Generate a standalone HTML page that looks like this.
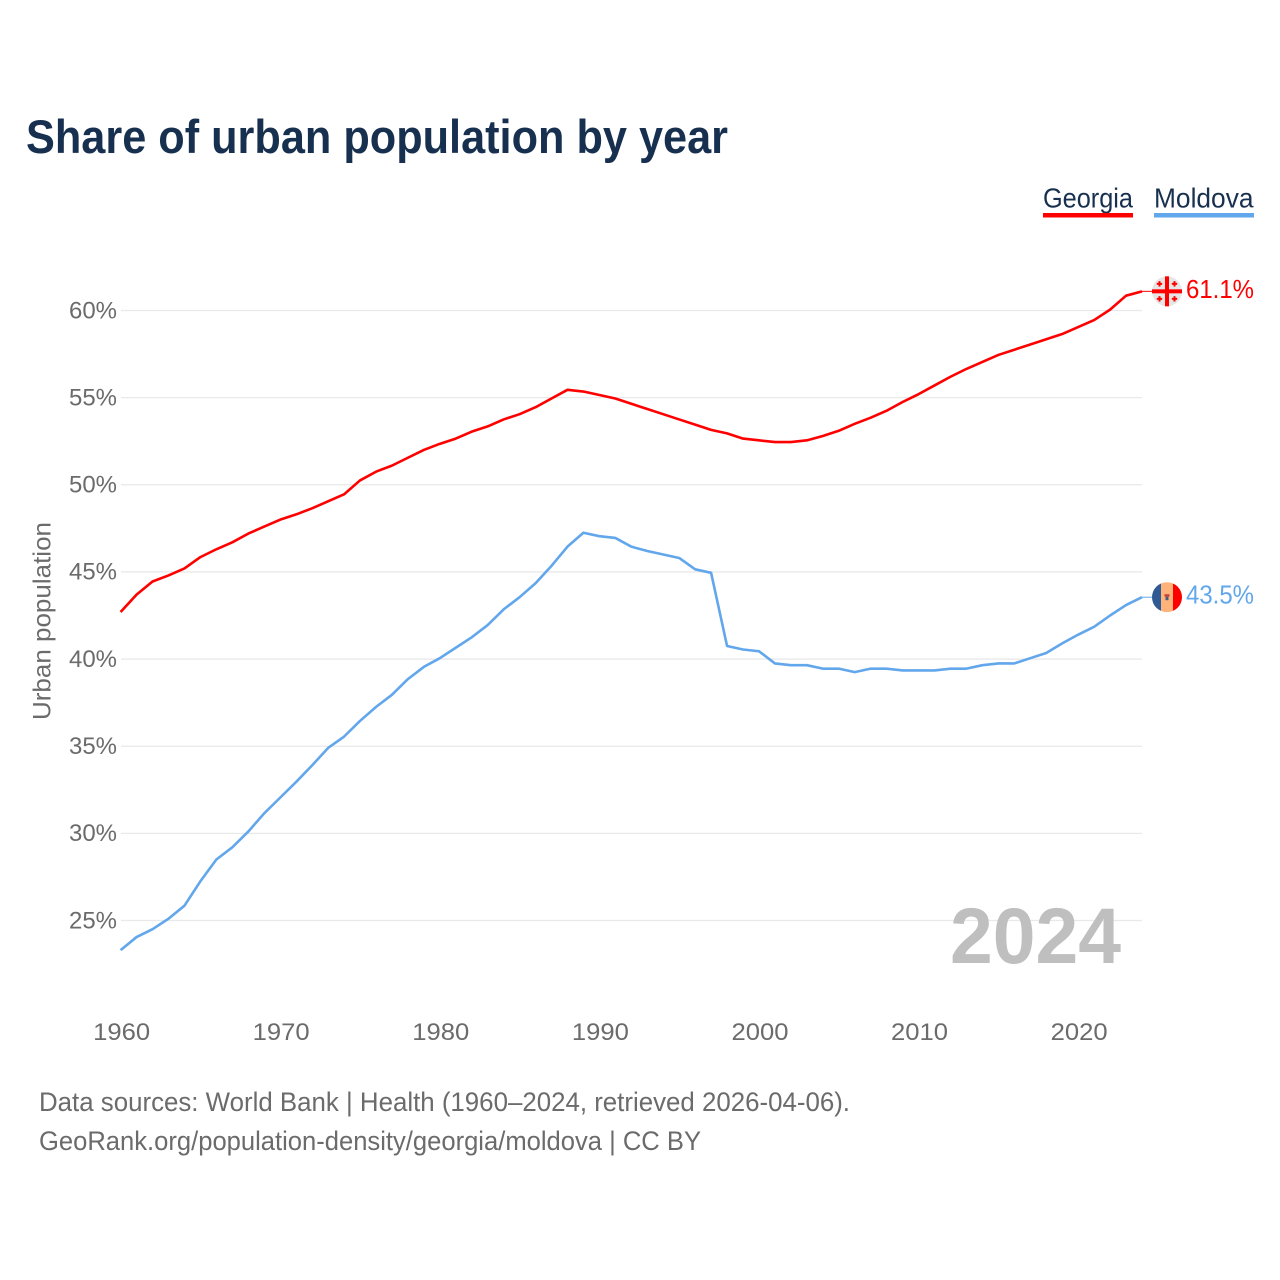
<!DOCTYPE html>
<html lang="en">
<head>
<meta charset="utf-8">
<title>Share of urban population by year</title>
<style>
html,body{margin:0;padding:0;background:#fff;}
svg{display:block;font-family:"Liberation Sans",sans-serif;}
</style>
</head>
<body>
<svg id="chart" xmlns="http://www.w3.org/2000/svg" width="1280" height="1280" viewBox="0 0 1280 1280">
  <rect width="1280" height="1280" fill="#fff"/>
  <text x="26" y="153" font-size="47" font-weight="700" fill="#18304f" textLength="702" lengthAdjust="spacingAndGlyphs">Share of urban population by year</text>

  <g>
    <text x="1043" y="207.5" font-size="27.5" fill="#18304f" textLength="90" lengthAdjust="spacingAndGlyphs">Georgia</text>
    <rect x="1043" y="213" width="90" height="4.5" fill="#ff0000"/>
  </g>
  <g>
    <text x="1154" y="207.5" font-size="27.5" fill="#18304f" textLength="99.5" lengthAdjust="spacingAndGlyphs">Moldova</text>
    <rect x="1154" y="213" width="100" height="4.5" fill="#62a6ec"/>
  </g>

  <g id="grid"></g>
  <g id="yticks"></g>
  <g id="xticks"></g>

  <text x="0" y="0" transform="translate(50.5 621) rotate(-90)" text-anchor="middle" font-size="25" fill="#6b6b6b" textLength="198" lengthAdjust="spacingAndGlyphs">Urban population</text>

  <text x="950" y="963" font-size="79" font-weight="700" fill="#bfbfbf" textLength="171" lengthAdjust="spacingAndGlyphs">2024</text>

  <g id="series"></g>
  <g id="ends"></g>

  <text x="39" y="1111" font-size="27" fill="#6b6b6b" textLength="811" lengthAdjust="spacingAndGlyphs">Data sources: World Bank | Health (1960–2024, retrieved 2026-04-06).</text>
  <text x="39" y="1150" font-size="27" fill="#6b6b6b" textLength="662" lengthAdjust="spacingAndGlyphs">GeoRank.org/population-density/georgia/moldova | CC BY</text>
</svg>
<script>
const years = [1960,1961,1962,1963,1964,1965,1966,1967,1968,1969,1970,1971,1972,1973,1974,1975,1976,1977,1978,1979,1980,1981,1982,1983,1984,1985,1986,1987,1988,1989,1990,1991,1992,1993,1994,1995,1996,1997,1998,1999,2000,2001,2002,2003,2004,2005,2006,2007,2008,2009,2010,2011,2012,2013,2014,2015,2016,2017,2018,2019,2020,2021,2022,2023,2024];
const georgia = [42.7,43.7,44.45,44.8,45.2,45.85,46.3,46.7,47.2,47.6,48.0,48.3,48.65,49.05,49.45,50.25,50.75,51.1,51.55,52.0,52.35,52.65,53.05,53.35,53.75,54.05,54.45,54.95,55.45,55.35,55.15,54.95,54.65,54.35,54.05,53.75,53.45,53.15,52.95,52.65,52.55,52.45,52.45,52.55,52.8,53.1,53.5,53.85,54.25,54.75,55.2,55.7,56.2,56.65,57.05,57.45,57.75,58.05,58.35,58.65,59.05,59.45,60.05,60.85,61.1];
const moldova = [23.3,24.05,24.5,25.1,25.85,27.25,28.5,29.2,30.1,31.15,32.05,32.95,33.9,34.9,35.55,36.45,37.25,37.95,38.85,39.55,40.05,40.65,41.25,41.95,42.85,43.55,44.35,45.35,46.45,47.25,47.05,46.95,46.45,46.2,46.0,45.8,45.15,44.95,40.75,40.55,40.45,39.75,39.65,39.65,39.45,39.45,39.25,39.45,39.45,39.35,39.35,39.35,39.45,39.45,39.65,39.75,39.75,40.05,40.35,40.9,41.4,41.85,42.5,43.1,43.55];
const yTickValues = [25,30,35,40,45,50,55,60];
const xTickValues = [1960,1970,1980,1990,2000,2010,2020];
const georgiaEndLabel = "61.1%";
const moldovaEndLabel = "43.5%";

const NS = "http://www.w3.org/2000/svg";
function xScale(year){ return 120.6 + (year - 1960) * (1142 - 120.6) / 64; }
function yScale(v){ return 310.5 + (60 - v) * (920.5 - 310.5) / 35; }
function mk(tag, attrs, text){
  const el = document.createElementNS(NS, tag);
  for (const k in attrs) el.setAttribute(k, attrs[k]);
  if (text !== undefined) el.textContent = text;
  return el;
}

const gridG = document.getElementById("grid");
const yG = document.getElementById("yticks");
yTickValues.forEach(function(v){
  const line = mk("line", {x1:121, x2:1142, y1:yScale(v), y2:yScale(v), stroke:"#e9e9e9", "stroke-width":1.3});
  
  
  gridG.appendChild(line);
  const t = mk("text", {x:117, y:yScale(v)+7.8, "text-anchor":"end", "font-size":24.5, fill:"#6b6b6b", textLength:48, lengthAdjust:"spacingAndGlyphs"}, v + "%");
  
  
  yG.appendChild(t);
});

const xG = document.getElementById("xticks");
xTickValues.forEach(function(y){
  const t = mk("text", {x:xScale(y)+1, y:1040, "text-anchor":"middle", "font-size":24.5, fill:"#6b6b6b", textLength:57, lengthAdjust:"spacingAndGlyphs"}, String(y));
  
  
  xG.appendChild(t);
});

function pathFor(values){
  return values.map(function(v,i){
    return (i ? "L" : "M") + xScale(years[i]).toFixed(2) + " " + yScale(v).toFixed(2);
  }).join(" ");
}
const seriesG = document.getElementById("series");
const georgiaLine = mk("path", {d:pathFor(georgia), fill:"none", stroke:"#ff0000", "stroke-width":2.6, "stroke-linejoin":"round"});


seriesG.appendChild(georgiaLine);
const moldovaLine = mk("path", {d:pathFor(moldova), fill:"none", stroke:"#62a6ec", "stroke-width":2.6, "stroke-linejoin":"round"});


seriesG.appendChild(moldovaLine);

const endsG = document.getElementById("ends");
const lastG = georgia[georgia.length-1], lastM = moldova[moldova.length-1];
const gy = yScale(lastG), my = yScale(lastM);
const fx = 1167;

/* connectors */
const c1 = mk("line", {x1:1142, x2:1152, y1:gy, y2:gy, stroke:"#ff0000", "stroke-width":1});


endsG.appendChild(c1);
const c2 = mk("line", {x1:1142, x2:1152, y1:my, y2:my, stroke:"#62a6ec", "stroke-width":1});


endsG.appendChild(c2);

/* Georgia flag */
const gf = mk("g", {});


gf.appendChild(mk("circle", {cx:fx, cy:gy, r:15, fill:"#e6e6e6"}));
gf.appendChild(mk("rect", {x:fx-15, y:gy-2, width:30, height:4, fill:"#ff0000"}));
gf.appendChild(mk("rect", {x:fx-2, y:gy-15, width:4, height:30, fill:"#ff0000"}));
[[-7.5,-7.5],[7.5,-7.5],[-7.5,7.5],[7.5,7.5]].forEach(function(o){
  gf.appendChild(mk("rect", {x:fx+o[0]-2.7, y:gy+o[1]-1, width:5.4, height:2, fill:"#ff0000"}));
  gf.appendChild(mk("rect", {x:fx+o[0]-1, y:gy+o[1]-2.7, width:2, height:5.4, fill:"#ff0000"}));
});
endsG.appendChild(gf);

/* Moldova flag */
const mf = mk("g", {});


const cp = mk("clipPath", {id:"mdClip"});
cp.appendChild(mk("circle", {cx:fx, cy:my, r:15}));
mf.appendChild(cp);
const mfInner = mk("g", {"clip-path":"url(#mdClip)"});
mfInner.appendChild(mk("rect", {x:fx-15, y:my-15, width:9, height:30, fill:"#2f5a94"}));
mfInner.appendChild(mk("rect", {x:fx-6, y:my-15, width:12, height:30, fill:"#ffb27a"}));
mfInner.appendChild(mk("rect", {x:fx+6, y:my-15, width:9, height:30, fill:"#ff0000"}));
mfInner.appendChild(mk("rect", {x:fx-2.5, y:my-3, width:5, height:2.5, fill:"#c8433a"}));
mfInner.appendChild(mk("rect", {x:fx-1.5, y:my-0.5, width:3, height:3.5, fill:"#4a5a80"}));
mf.appendChild(mfInner);
endsG.appendChild(mf);

const lg = mk("text", {x:1186, y:gy+6.5, "font-size":26, fill:"#ff0000", textLength:68, lengthAdjust:"spacingAndGlyphs"}, georgiaEndLabel);


endsG.appendChild(lg);
const lm = mk("text", {x:1186, y:my+6.5, "font-size":26, fill:"#62a6ec", textLength:68, lengthAdjust:"spacingAndGlyphs"}, moldovaEndLabel);


endsG.appendChild(lm);
</script>
</body>
</html>
